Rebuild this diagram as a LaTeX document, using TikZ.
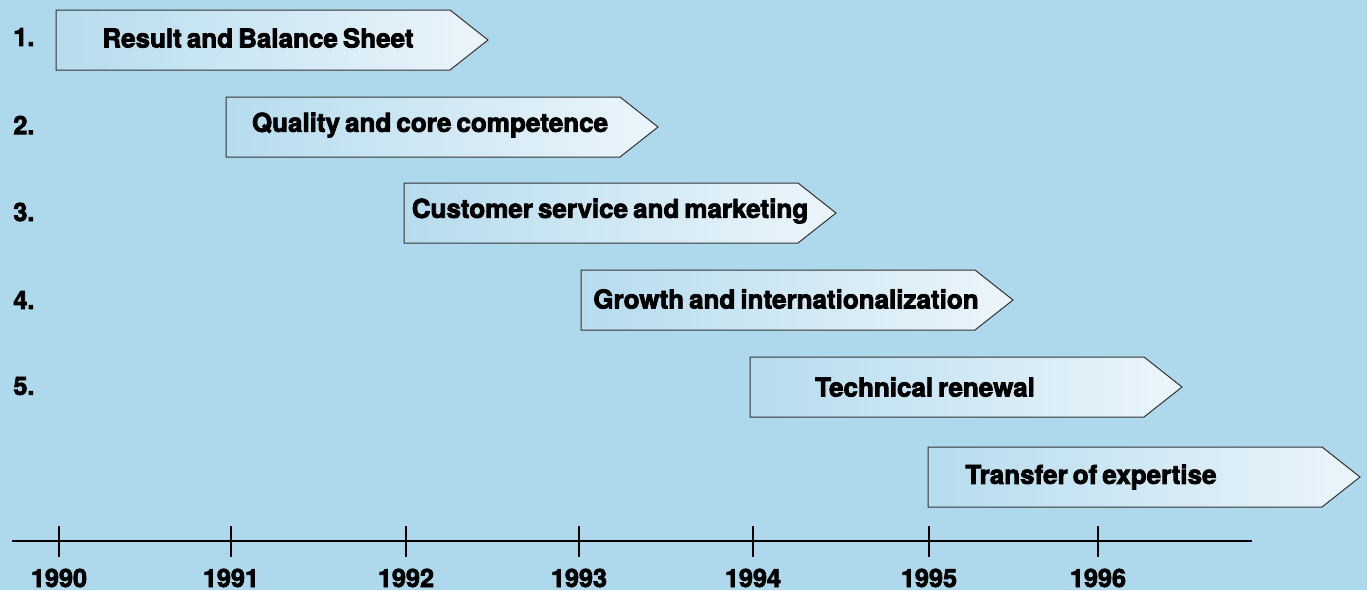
\documentclass[tikz,border=0pt]{standalone}
\usepackage{fontspec}
\setmainfont{TeX Gyre Heros}[BoldFeatures={FakeBold=3,WordSpace=0.7}]
\definecolor{bgblue}{RGB}{174,216,235}
\definecolor{phaseleft}{RGB}{182,220,238}
\definecolor{phaseright}{RGB}{236,245,251}
\begin{document}
\begin{tikzpicture}[x=0.5pt,y=-0.5pt,font=\bfseries,
  phase/.style={draw=black!80,line width=0.5pt,left color=phaseleft,right color=phaseright},
  phasetext/.style={font=\fontsize{13}{15}\bfseries},
  yeartext/.style={font=\fontsize{12.6}{14}\bfseries}]
 \fill[bgblue] (0,0) rectangle (1367,590);
 \useasboundingbox (0,0) rectangle (1367,590);
 % arrow bodies, one per phase
 \foreach \x/\y in {56/10,226/97,404/183,581/270,750/357,928/447}{
  \draw[phase] (\x,\y) -- ++(394,0) -- ++(38,30) -- ++(-38,30) -- ++(-394,0) -- cycle;
 }
 \node[phasetext] (p1) at (258,38) {Result and Balance Sheet};
 \node[phasetext] (p2) at (430,125) {Quality and core competence};
 \node[phasetext] (p3) at (610,211) {Customer service and marketing};
 \node[phasetext] (p4) at (786,299) {Growth and internationalization};
 \node[phasetext] (p5) at (925,387) {Technical renewal};
 \node[phasetext] (p6) at (1091,477) {Transfer of expertise};
 % phase numbers
 \foreach \n/\y in {1/37,2/125,3/212,4/300,5/386}{
  \node[yeartext,anchor=west,inner sep=0pt] (n\n) at (13,\y) {\n.};
 }
 % time axis
 \coordinate (a0) at (12,541);
 \coordinate (a1) at (1252,541);
 \draw[line width=1.1pt] (a0) -- (a1);
 \foreach \x/\yr in {59/1990,231/1991,406/1992,579/1993,753/1994,929/1995,1098/1996}{
  \draw[line width=1.1pt] (\x,526) -- (\x,557);
  \node[yeartext] (y\yr) at (\x,578) {\yr};
 }
\end{tikzpicture}
\end{document}
